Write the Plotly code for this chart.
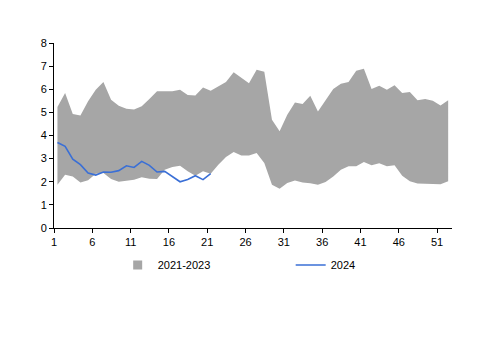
import plotly.graph_objects as go

weeks = list(range(1, 53))
range_low = [1.87, 2.30, 2.23, 1.97, 2.07, 2.35, 2.38, 2.12, 2.00, 2.05,
             2.09, 2.20, 2.13, 2.12, 2.52, 2.64, 2.69, 2.45, 2.26, 2.45,
             2.35, 2.74, 3.07, 3.29, 3.13, 3.13, 3.24, 2.81, 1.87, 1.70,
             1.95, 2.05, 1.97, 1.93, 1.87, 1.99, 2.23, 2.52, 2.67, 2.67,
             2.85, 2.71, 2.80, 2.67, 2.71, 2.26, 2.02, 1.92, 1.90, 1.90,
             1.89, 2.02]
range_high = [5.23, 5.84, 4.93, 4.86, 5.48, 5.98, 6.31, 5.55, 5.29, 5.16,
              5.12, 5.26, 5.58, 5.91, 5.91, 5.91, 5.98, 5.75, 5.73, 6.08,
              5.94, 6.12, 6.31, 6.73, 6.48, 6.26, 6.84, 6.76, 4.68, 4.18,
              4.90, 5.43, 5.36, 5.72, 5.04, 5.52, 6.01, 6.24, 6.31, 6.80,
              6.89, 6.01, 6.15, 5.98, 6.17, 5.84, 5.88, 5.52, 5.58, 5.50,
              5.30, 5.52]
weeks_2024 = list(range(1, 22))
values_2024 = [3.70, 3.53, 2.98, 2.74, 2.38, 2.29, 2.42, 2.41, 2.48, 2.69,
               2.62, 2.88, 2.71, 2.42, 2.45, 2.23, 2.00, 2.10, 2.26, 2.09,
               2.35]
tick_weeks = [1, 6, 11, 16, 21, 26, 31, 36, 41, 46, 51]
y_ticks = [0, 1, 2, 3, 4, 5, 6, 7, 8]

GRAY = "#a6a6a6"
BLUE = "#3a6fd6"
offset = 0.45  # category tick sits slightly left of its data point

fig = go.Figure()
fig.add_trace(go.Scatter(x=weeks, y=range_low, mode="lines",
                         line=dict(width=0, color=GRAY), showlegend=False,
                         hoverinfo="skip"))
fig.add_trace(go.Scatter(x=weeks, y=range_high, mode="lines", fill="tonexty",
                         fillcolor=GRAY, line=dict(width=0, color=GRAY),
                         name="2021-2023", showlegend=False))
fig.add_trace(go.Scatter(x=[None], y=[None], mode="markers",
                         marker=dict(symbol="square", size=9, color=GRAY),
                         name="2021-2023", showlegend=True, legendrank=1))
fig.add_trace(go.Scatter(x=weeks_2024, y=values_2024, mode="lines",
                         line=dict(width=1.6, color=BLUE), name="2024",
                         legendrank=2))

fig.update_layout(
    width=500, height=353,
    margin=dict(l=54, r=48, t=43, b=125, autoexpand=False),
    paper_bgcolor="white", plot_bgcolor="white",
    font=dict(family="Liberation Sans, Arial, sans-serif", size=11, color="#000"),
    showlegend=True,
    legend=dict(orientation="h", x=0.16, y=-0.2, xanchor="left", yanchor="middle",
                entrywidth=128, entrywidthmode="pixels",
                font=dict(size=11), bgcolor="rgba(0,0,0,0)",
                itemwidth=30, traceorder="normal"),
)
fig.update_xaxes(
    range=[1 - offset, 52.5],
    tickmode="array",
    tickvals=[w - offset for w in tick_weeks],
    ticktext=[str(w) for w in tick_weeks],
    showline=True, linecolor="#000", linewidth=1,
    ticks="outside", ticklen=4, tickcolor="#000",
    showgrid=False, zeroline=False, fixedrange=True,
)
fig.update_yaxes(
    range=[0, 8],
    tickmode="array", tickvals=y_ticks,
    ticktext=[str(v) for v in y_ticks],
    showline=True, linecolor="#000", linewidth=1,
    ticks="outside", ticklen=4, tickcolor="#000",
    showgrid=False, zeroline=False, fixedrange=True,
)

fig.write_html("out.html")
